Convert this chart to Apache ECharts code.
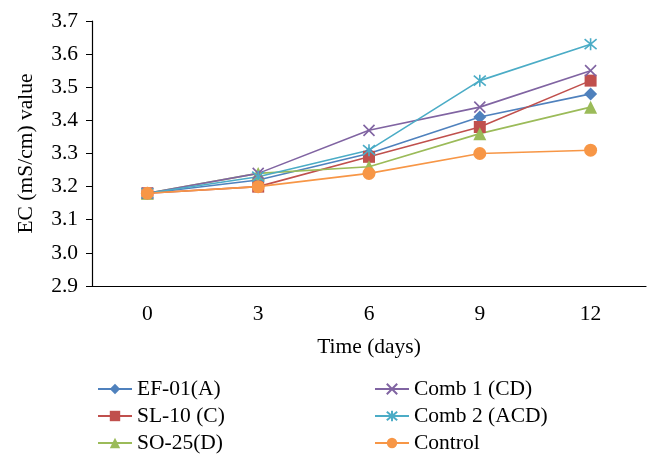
<!DOCTYPE html>
<html>
<head>
<meta charset="utf-8">
<script src="https://cdn.jsdelivr.net/npm/echarts@6/dist/echarts.min.js"></script>
<style>html,body{margin:0;padding:0;background:#fff}#c{width:660px;height:468px}</style>
</head>
<body>
<div id="c"></div>
<script>
const days = ['0', '3', '6', '9', '12'];
const ef01 = [3.18, 3.22, 3.30, 3.41, 3.48];
const sl10 = [3.18, 3.20, 3.29, 3.38, 3.52];
const so25 = [3.18, 3.24, 3.26, 3.36, 3.44];
const comb1 = [3.18, 3.24, 3.37, 3.44, 3.55];
const comb2 = [3.18, 3.23, 3.31, 3.52, 3.63];
const control = [3.18, 3.20, 3.24, 3.30, 3.31];
const names = ['EF-01(A)', 'SL-10 (C)', 'SO-25(D)', 'Comb 1 (CD)', 'Comb 2 (ACD)', 'Control'];
const yTicks = [2.9, 3.7, 0.1];

const font = 'Liberation Serif';
const fs = 21.5;
const crossPath = 'path://M0,0L10,10M10,0L0,10';
const starPath = 'path://M0,0L10,10M10,0L0,10M5,-1L5,11';

function mk(name, data, color, symbol, size, stroked) {
  const s = {
    name: name, type: 'line', data: data, color: color,
    symbol: symbol, symbolSize: size,
    lineStyle: { color: color, width: 1.6 },
    itemStyle: { color: color },
    emphasis: { disabled: true }
  };
  if (stroked) s.itemStyle = { color: color, borderColor: color, borderWidth: 1.6 };
  return s;
}

const chart = echarts.init(document.getElementById('c'));
chart.setOption({
  animation: false,
  backgroundColor: '#fff',
  grid: { left: 92, right: 14, top: 21, bottom: 182, containLabel: false },
  xAxis: {
    type: 'category', data: days, boundaryGap: true,
    name: 'Time (days)', nameLocation: 'middle', nameGap: 50,
    nameTextStyle: { fontFamily: font, fontSize: fs, color: '#000' },
    axisLine: { lineStyle: { color: '#000', width: 1.2 } },
    axisTick: { alignWithLabel: true, length: 7, lineStyle: { color: '#000' } },
    axisLabel: { fontFamily: font, fontSize: fs, color: '#000', margin: 17 },
    splitLine: { show: false }
  },
  yAxis: {
    type: 'value', min: yTicks[0], max: yTicks[1], interval: yTicks[2],
    name: 'EC (mS/cm) value', nameLocation: 'middle', nameGap: 55, nameRotate: 90,
    nameTextStyle: { fontFamily: font, fontSize: fs, color: '#000' },
    axisLine: { show: true, lineStyle: { color: '#000', width: 1.2 } },
    axisTick: { show: true, length: 6, lineStyle: { color: '#000' } },
    axisLabel: { fontFamily: font, fontSize: fs, color: '#000', margin: 14, formatter: v => v.toFixed(1) },
    splitLine: { show: false }
  },
  legend: [
    { data: names.slice(0, 3), orient: 'vertical', left: 92, top: 373, itemWidth: 34, itemHeight: 13, itemGap: 5,
      textStyle: { fontFamily: font, fontSize: fs, color: '#000' } },
    { data: names.slice(3), orient: 'vertical', left: 369, top: 373, itemWidth: 34, itemHeight: 13, itemGap: 5,
      textStyle: { fontFamily: font, fontSize: fs, color: '#000' } }
  ],
  series: [
    mk(names[0], ef01, '#4F81BD', 'diamond', 13),
    mk(names[1], sl10, '#C0504D', 'rect', 12),
    mk(names[2], so25, '#9BBB59', 'triangle', 13),
    mk(names[3], comb1, '#8064A2', crossPath, 11, true),
    mk(names[4], comb2, '#4BACC6', starPath, 12, true),
    mk(names[5], control, '#F79646', 'circle', 13)
  ]
});
</script>
</body>
</html>
